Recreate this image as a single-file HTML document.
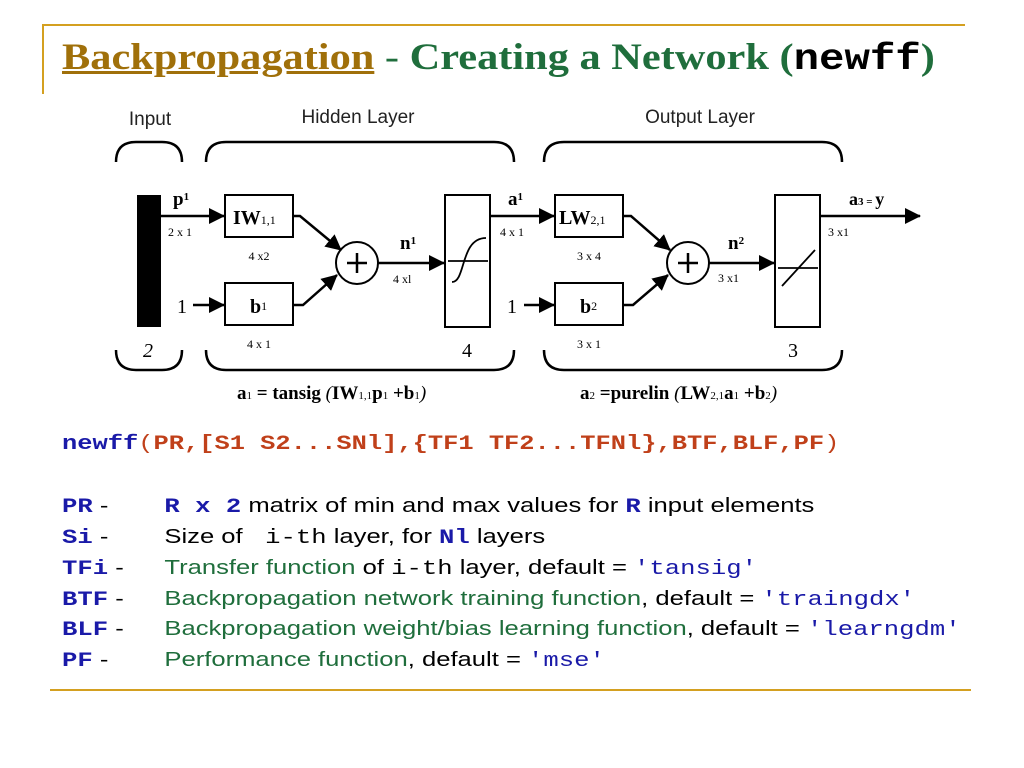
<!DOCTYPE html>
<html><head><meta charset="utf-8"><style>
body{margin:0;background:#fff;width:1024px;height:768px;overflow:hidden;position:relative;font-family:"Liberation Sans",sans-serif}
.t{position:absolute;white-space:nowrap}
.m{font-family:"Liberation Mono",monospace}
.b{color:#1a1aa8;font-weight:bold;font-family:"Liberation Mono",monospace}
.g{color:#1f6e3c}
.row{position:absolute;left:62px;font-size:20px;line-height:24px;white-space:nowrap;transform:scaleX(1.28);transform-origin:0 0}
.row .d{position:absolute;left:80px;top:0}
.q{color:#1a1aa8;font-family:"Liberation Mono",monospace}
</style></head><body>
<div style="position:absolute;left:42px;top:24px;width:923px;height:2px;background:#d4a020"></div>
<div style="position:absolute;left:42px;top:24px;width:2px;height:70px;background:#d4a020"></div>
<div style="position:absolute;left:50px;top:689px;width:921px;height:2px;background:#d4a020"></div>
<div class="t" style="left:62px;top:36px;font-family:'Liberation Serif',serif;font-size:37px;font-weight:bold;color:#1f6e3c;transform:scaleX(1.145);transform-origin:0 0"><span style="color:#a0700a;text-decoration:underline">Backpropagation</span> <span style="font-weight:normal">-</span> Creating a Network (<span class="m" style="color:#000">newff</span>)</div>
<svg style="position:absolute;left:0;top:0" width="1024" height="420" xmlns="http://www.w3.org/2000/svg">
<defs><marker id="A" markerWidth="16" markerHeight="16" refX="15" refY="8" orient="auto" markerUnits="userSpaceOnUse"><path d="M0,0 L16,8 L0,16z" fill="#000"/></marker></defs>
<g font-family="Liberation Sans,sans-serif" font-size="19" fill="#222">
<text x="150" y="125" text-anchor="middle">Input</text>
<text x="358" y="123" text-anchor="middle">Hidden Layer</text>
<text x="700" y="123" text-anchor="middle">Output Layer</text>
</g>
<g fill="none" stroke="#000" stroke-width="2.5">
<path d="M116,162 Q116,142 136,142 L162,142 Q182,142 182,162"/>
<path d="M206,162 Q206,142 226,142 L494,142 Q514,142 514,162"/>
<path d="M544,162 Q544,142 564,142 L822,142 Q842,142 842,162"/>
<path d="M116,350 Q116,370 136,370 L162,370 Q182,370 182,350"/>
<path d="M206,350 Q206,370 226,370 L494,370 Q514,370 514,350"/>
<path d="M544,350 Q544,370 564,370 L822,370 Q842,370 842,350"/>
</g>
<rect x="137" y="195" width="24" height="132" fill="#000"/>
<g fill="#fff" stroke="#000" stroke-width="2">
<rect x="225" y="195" width="68" height="42"/><rect x="225" y="283" width="68" height="42"/>
<rect x="445" y="195" width="45" height="132"/>
<rect x="555" y="195" width="68" height="42"/><rect x="555" y="283" width="68" height="42"/>
<rect x="775" y="195" width="45" height="132"/>
<circle cx="357" cy="263" r="21"/><circle cx="688" cy="263" r="21"/>
</g>
<g stroke="#000" stroke-width="2.5" fill="none">
<path d="M347,263h20M357,253v20M678,263h20M688,253v20"/>
<line x1="161" y1="216" x2="224" y2="216" marker-end="url(#A)"/>
<line x1="193" y1="305" x2="224" y2="305" marker-end="url(#A)"/>
<path d="M293,216 H300 L341,250" marker-end="url(#A)"/>
<path d="M293,305 H303 L337,275" marker-end="url(#A)"/>
<line x1="378" y1="263" x2="444" y2="263" marker-end="url(#A)"/>
<line x1="490" y1="216" x2="554" y2="216" marker-end="url(#A)"/>
<line x1="524" y1="305" x2="554" y2="305" marker-end="url(#A)"/>
<path d="M623,216 H631 L670,250" marker-end="url(#A)"/>
<path d="M623,305 H633 L668,275" marker-end="url(#A)"/>
<line x1="709" y1="263" x2="774" y2="263" marker-end="url(#A)"/>
<line x1="820" y1="216" x2="920" y2="216" marker-end="url(#A)"/>
<path d="M448,261h40M452,282 C466,282 460,238 486,238" stroke-width="1.8"/>
<path d="M778,268h40M782,286 L815,250" stroke-width="1.8"/>
</g>
<g font-family="Liberation Serif,serif" fill="#000">
<text x="173" y="205" font-size="19" font-weight="bold">p<tspan font-size="11" dy="-5">1</tspan></text>
<text x="168" y="236" font-size="12">2 x 1</text>
<text x="233" y="224" font-size="20" font-weight="bold">IW<tspan font-size="12" font-weight="normal">1,1</tspan></text>
<text x="259" y="260" font-size="12" text-anchor="middle">4 x2</text>
<text x="177" y="313" font-size="20">1</text>
<text x="250" y="313" font-size="20" font-weight="bold">b<tspan font-size="12" font-weight="normal" dy="-3">1</tspan></text>
<text x="259" y="348" font-size="12" text-anchor="middle">4 x 1</text>
<text x="400" y="249" font-size="19" font-weight="bold">n<tspan font-size="11" dy="-5">1</tspan></text>
<text x="393" y="283" font-size="12">4 xl</text>
<text x="467" y="357" font-size="20" text-anchor="middle">4</text>
<text x="148" y="357" font-size="20" font-style="italic" text-anchor="middle">2</text>
<text x="508" y="205" font-size="19" font-weight="bold">a<tspan font-size="11" dy="-5">1</tspan></text>
<text x="500" y="236" font-size="12">4 x 1</text>
<text x="507" y="313" font-size="20">1</text>
<text x="559" y="224" font-size="20" font-weight="bold">LW<tspan font-size="12" font-weight="normal">2,1</tspan></text>
<text x="589" y="260" font-size="12" text-anchor="middle">3 x 4</text>
<text x="580" y="313" font-size="20" font-weight="bold">b<tspan font-size="12" font-weight="normal" dy="-3">2</tspan></text>
<text x="589" y="348" font-size="12" text-anchor="middle">3 x 1</text>
<text x="728" y="249" font-size="19" font-weight="bold">n<tspan font-size="11" dy="-5">2</tspan></text>
<text x="718" y="282" font-size="12">3 x1</text>
<text x="793" y="357" font-size="20" text-anchor="middle">3</text>
<text x="849" y="205" font-size="18" font-weight="bold">a<tspan font-size="11">3 = </tspan>y</text>
<text x="828" y="236" font-size="12">3 x1</text>
<text x="237" y="399" font-size="19" font-weight="bold">a<tspan font-size="11" font-weight="normal">1</tspan> = tansig <tspan font-style="italic" font-weight="normal">(</tspan>IW<tspan font-size="11" font-weight="normal">1,1</tspan>p<tspan font-size="11" font-weight="normal">1</tspan> +b<tspan font-size="11" font-weight="normal">1</tspan><tspan font-style="italic" font-weight="normal">)</tspan></text>
<text x="580" y="399" font-size="19" font-weight="bold">a<tspan font-size="11" font-weight="normal">2</tspan> =purelin <tspan font-style="italic" font-weight="normal">(</tspan>LW<tspan font-size="11" font-weight="normal">2,1</tspan>a<tspan font-size="11" font-weight="normal">1</tspan> +b<tspan font-size="11" font-weight="normal">2</tspan><tspan font-style="italic" font-weight="normal">)</tspan></text>
</g>
</svg>
<div class="t m" style="left:62px;top:433px;font-size:20px;font-weight:bold;color:#c0401a;transform:scaleX(1.27);transform-origin:0 0"><span style="color:#1a1aa8">newff</span><span style="font-weight:normal">(</span>PR,[S1 S2...SNl],{TF1 TF2...TFNl},BTF,BLF,PF<span style="font-weight:normal">)</span></div>
<div class="row" style="top:494px"><span class="b">PR</span> -<span class="d"><span class="b">R x 2</span> matrix of min and max values for <span class="b">R</span> input elements</span></div>
<div class="row" style="top:525px"><span class="b">Si</span> -<span class="d">Size of <span class="m">&nbsp;i-th</span> layer, for <span class="b">Nl</span> layers</span></div>
<div class="row" style="top:556px"><span class="b">TFi</span> -<span class="d"><span class="g">Transfer function</span> of <span class="m">i-th</span> layer, default = <span class="q">'tansig'</span></span></div>
<div class="row" style="top:587px"><span class="b">BTF</span> -<span class="d"><span class="g">Backpropagation network training function</span>, default = <span class="q">'traingdx'</span></span></div>
<div class="row" style="top:617px"><span class="b">BLF</span> -<span class="d"><span class="g">Backpropagation weight/bias learning function</span>, default = <span class="q">'learngdm'</span></span></div>
<div class="row" style="top:648px"><span class="b">PF</span> -<span class="d"><span class="g">Performance function</span>, default = <span class="q">'mse'</span></span></div>
</body></html>
